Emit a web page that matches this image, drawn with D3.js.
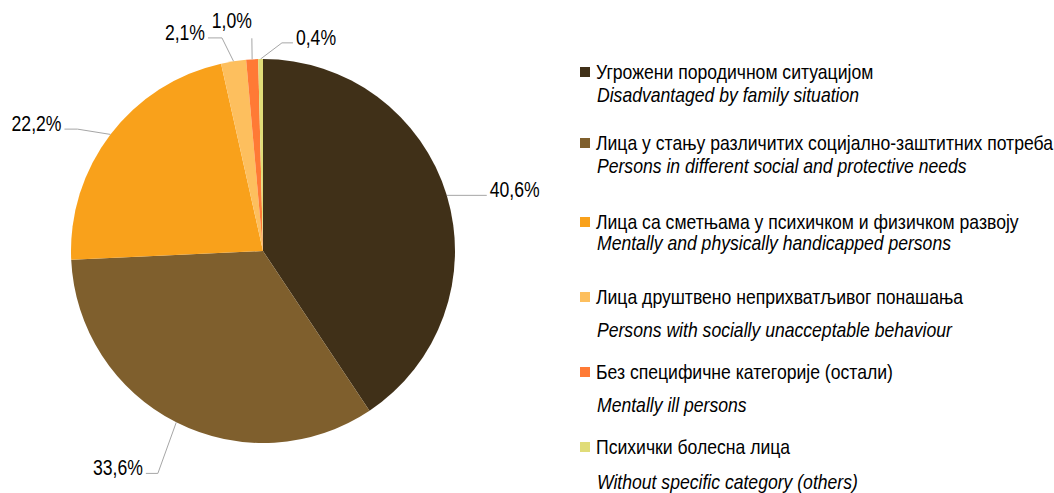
<!DOCTYPE html>
<html>
<head>
<meta charset="utf-8">
<script src="https://cdn.jsdelivr.net/npm/d3@7"></script>
<style>
  body { margin: 0; background: #fff; }
  text { font-family: "Liberation Sans", Arial, sans-serif; fill: #000; }
</style>
</head>
<body>
<div id="chart"></div>
<script>
// data
const categories = [
  'Угрожени породичном ситуацијом',
  'Лица у стању различитих социјално-заштитних потреба',
  'Лица са сметњама у психичком и физичком развоју',
  'Лица друштвено неприхватљивог понашања',
  'Без специфичне категорије (остали)',
  'Психички болесна лица'
];
const categoriesEn = [
  'Disadvantaged by family situation',
  'Persons in different social and protective needs',
  'Mentally and physically handicapped persons',
  'Persons with socially unacceptable behaviour',
  'Mentally ill persons',
  'Without specific category (others)'
];
const values = [40.6, 33.6, 22.2, 2.1, 1.0, 0.4];
const valueLabels = ['40,6%', '33,6%', '22,2%', '2,1%', '1,0%', '0,4%'];
const colors = ['#403018', '#7f5f2d', '#f9a11b', '#fdbf5e', '#ff7a35', '#e0dc78'];

// layout
const W = 1054, H = 493;
const cx = 263, cy = 251, radius = 192;
// leader elbow: angle (deg from 12 o'clock), distance from centre, horizontal tail, label side
const leaders = [
  {a: null, r: null, tail: 40, side: 1},
  {a: 205.3, r: 246, tail: -12, side: -1},
  {a: 303.3, r: 222, tail: -13, side: -1},
  {a: 349.1, r: 217, tail: -14, side: -1},
  {a: 357, r: 213, tail: 0, side: 0},
  {a: 5.2, r: 209, tail: 11, side: 1}
];
const legendX = 580;
const legendRows = [[72, 95], [143, 166], [222, 243], [297, 330], [372, 405], [447, 482]];

const svg = d3.select('#chart')
  .append('svg')
    .attr('width', W)
    .attr('height', H);

// narrow text: place at x,y then squeeze horizontally
function narrowText(sel, x, y, sx) {
  return sel.append('text')
    .attr('transform', 'translate(' + x + ',' + y + ') scale(' + sx + ',1)');
}

const g = svg.append('g')
    .attr('transform', 'translate(' + cx + ',' + cy + ')');

const pie = d3.pie().sort(null).value(d => d);
const arcs = pie(values);
const arc = d3.arc().innerRadius(0).outerRadius(radius);

g.selectAll('.slice')
  .data(arcs)
  .enter().append('path').attr('class', 'slice')
    .attr('fill', (d, i) => colors[i])
    .attr('d', arc);

// polar helper, angle from 12 o'clock clockwise
const polar = (ang, r) => [Math.sin(ang) * r, -Math.cos(ang) * r];

arcs.forEach((d, i) => {
  const mid = (d.startAngle + d.endAngle) / 2;
  const L = leaders[i];
  const p0 = polar(mid, radius);
  const p1 = L.a === null ? p0 : polar(L.a * Math.PI / 180, L.r);
  const p2 = [p1[0] + L.tail, p1[1]];
  g.append('polyline')
    .attr('points', [p0, p1, p2].map(p => p.join(',')).join(' '))
    .attr('fill', 'none')
    .attr('stroke', '#a6a6a6')
    .attr('stroke-width', 1);

  let t;
  if (L.side === 0) {
    t = narrowText(g, p2[0], p2[1] - 10, 0.8).attr('text-anchor', 'end');
  } else {
    t = narrowText(g, p2[0] + L.side * 3, p2[1] + 2, 0.8)
      .attr('text-anchor', L.side > 0 ? 'start' : 'end');
  }
  t.attr('font-size', 22).text(valueLabels[i]);
});

// legend
const legend = svg.append('g');
categories.forEach((c, i) => {
  const [y1, y2] = legendRows[i];
  legend.append('rect')
    .attr('x', legendX)
    .attr('y', y1 - 5)
    .attr('width', 10)
    .attr('height', 10)
    .attr('fill', colors[i]);
  narrowText(legend, legendX + 16, y1, 0.88)
    .attr('dy', '0.35em')
    .attr('font-size', 20)
    .text(c);
  narrowText(legend, legendX + 17, y2, 0.88)
    .attr('dy', '0.35em')
    .attr('font-size', 20)
    .attr('font-style', 'italic')
    .text(categoriesEn[i]);
});
</script>
</body>
</html>
